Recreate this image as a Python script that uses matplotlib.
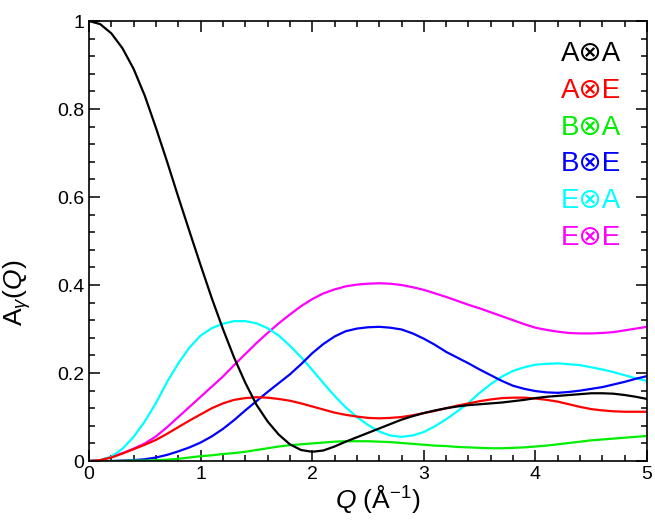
import matplotlib
matplotlib.use("Agg")
import matplotlib.pyplot as plt
import numpy as np
from matplotlib.ticker import MultipleLocator, FixedFormatter, FixedLocator

plt.rcParams['font.family'] = ['Liberation Sans', 'DejaVu Sans']
plt.rcParams['mathtext.fontset'] = 'custom'
plt.rcParams['mathtext.rm'] = 'Liberation Sans'
plt.rcParams['mathtext.it'] = 'Liberation Sans:italic'

q = np.round(np.arange(0, 5.01, 0.1), 1)

a_a = [1.000, 0.993, 0.972, 0.938, 0.891, 0.830, 0.757, 0.680, 0.600, 0.522,
       0.445, 0.370, 0.300, 0.235, 0.178, 0.128, 0.090, 0.060, 0.038, 0.025,
       0.021, 0.024, 0.033, 0.044, 0.054, 0.064, 0.074, 0.084, 0.094, 0.102,
       0.109, 0.115, 0.120, 0.124, 0.127, 0.129, 0.131, 0.133, 0.136, 0.139,
       0.143, 0.146, 0.148, 0.150, 0.152, 0.154, 0.154, 0.153, 0.150, 0.146,
       0.141]
a_e = [0.000, 0.002, 0.008, 0.017, 0.027, 0.037, 0.048, 0.062, 0.077, 0.092,
       0.106, 0.120, 0.131, 0.139, 0.143, 0.145, 0.144, 0.141, 0.137, 0.131,
       0.124, 0.117, 0.110, 0.105, 0.101, 0.098, 0.097, 0.098, 0.100, 0.104,
       0.109, 0.114, 0.120, 0.126, 0.131, 0.136, 0.140, 0.143, 0.144, 0.144,
       0.142, 0.139, 0.135, 0.129, 0.123, 0.118, 0.115, 0.113, 0.112, 0.112,
       0.112]
b_a = [0.000, 0.000, 0.000, 0.000, 0.001, 0.001, 0.002, 0.003, 0.005, 0.008,
       0.011, 0.013, 0.016, 0.018, 0.021, 0.025, 0.029, 0.033, 0.036, 0.038,
       0.040, 0.042, 0.044, 0.045, 0.045, 0.045, 0.044, 0.043, 0.041, 0.039,
       0.037, 0.035, 0.034, 0.032, 0.031, 0.030, 0.029, 0.029, 0.030, 0.031,
       0.033, 0.035, 0.038, 0.041, 0.044, 0.047, 0.049, 0.051, 0.053, 0.055,
       0.057]
b_e = [0.000, 0.000, 0.000, 0.001, 0.002, 0.004, 0.008, 0.014, 0.022, 0.031,
       0.042, 0.056, 0.073, 0.093, 0.115, 0.136, 0.157, 0.177, 0.197, 0.220,
       0.245, 0.266, 0.283, 0.295, 0.301, 0.304, 0.305, 0.303, 0.299, 0.290,
       0.278, 0.264, 0.248, 0.235, 0.222, 0.208, 0.195, 0.182, 0.171, 0.164,
       0.159, 0.156, 0.155, 0.157, 0.160, 0.164, 0.168, 0.174, 0.180, 0.187,
       0.193]
e_a = [0.000, 0.002, 0.010, 0.028, 0.055, 0.090, 0.132, 0.180, 0.222, 0.258,
       0.285, 0.302, 0.312, 0.318, 0.318, 0.313, 0.302, 0.285, 0.262, 0.236,
       0.207, 0.177, 0.148, 0.122, 0.100, 0.082, 0.067, 0.058, 0.055, 0.058,
       0.066, 0.079, 0.095, 0.113, 0.132, 0.155, 0.175, 0.192, 0.205, 0.213,
       0.219, 0.221, 0.222, 0.220, 0.218, 0.213, 0.208, 0.202, 0.195, 0.188,
       0.182]
e_e = [0.000, 0.002, 0.009, 0.018, 0.028, 0.040, 0.056, 0.077, 0.100, 0.123,
       0.146, 0.169, 0.192, 0.218, 0.243, 0.268, 0.291, 0.313, 0.333, 0.352,
       0.368, 0.381, 0.390, 0.397, 0.401, 0.403, 0.404, 0.403, 0.400, 0.395,
       0.389, 0.381, 0.373, 0.364, 0.355, 0.347, 0.338, 0.329, 0.320, 0.311,
       0.303, 0.298, 0.294, 0.291, 0.290, 0.290, 0.291, 0.293, 0.297, 0.301,
       0.305]

labels = ['A\u2297A', 'A\u2297E', 'B\u2297A', 'B\u2297E', 'E\u2297A', 'E\u2297E']
colors = ['black', '#ff0000', '#00ee00', '#0000ff', '#00ffff', '#ff00ff']
series = [a_a, a_e, b_a, b_e, e_a, e_e]

fig = plt.figure(figsize=(6.55, 5.23), dpi=100)
ax = fig.add_axes([0.1359, 0.1185, 0.852, 0.8413])

# draw back to front so black ends up on top
for ys, c in list(zip(series, colors))[::-1]:
    ax.plot(q, ys, color=c, lw=1.6)

ax.set_xlim(0, 5)
ax.set_ylim(0, 1)
ax.xaxis.set_major_locator(MultipleLocator(1))
ax.xaxis.set_minor_locator(MultipleLocator(0.2))
ax.yaxis.set_major_locator(FixedLocator([0, 0.2, 0.4, 0.6, 0.8, 1.0]))
ax.yaxis.set_major_formatter(FixedFormatter(['0', '0.2', '0.4', '0.6', '0.8', '1']))
ax.yaxis.set_minor_locator(MultipleLocator(0.04))
ax.tick_params(which='both', direction='in', top=True, right=True, labelsize=14, width=1.1)
ax.tick_params(which='major', length=8)
ax.tick_params(which='minor', length=4.5)
for s in ax.spines.values():
    s.set_linewidth(1.2)

ax.set_xlabel(r'$Q$ (Å$^{\mathregular{-1}}$)', fontsize=19)
ax.set_ylabel(r'A$_{\gamma}$($Q$)', fontsize=19)
ax.xaxis.set_label_coords(0.518, -0.05)
ax.yaxis.set_label_coords(-0.1, 0.383)

for i, (lab, c) in enumerate(zip(labels, colors)):
    ax.text(0.953, 0.925 - i * 0.0835, lab, color=c, fontsize=20,
            ha='right', va='center', transform=ax.transAxes)

fig.savefig('out.png', dpi=100)
